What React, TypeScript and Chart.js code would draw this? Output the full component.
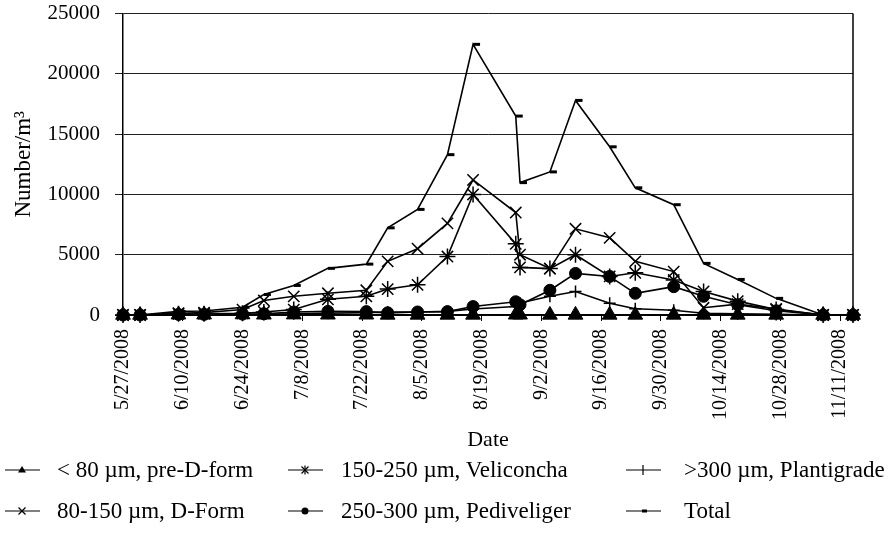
import React, { useEffect, useRef } from "react";
import { Chart, registerables } from "chart.js";

Chart.register(...registerables);

// Sampling dates (m/d/yyyy)
const dates = [
  "5/27/2008", "5/31/2008", "6/9/2008", "6/15/2008", "6/24/2008", "6/29/2008",
  "7/6/2008", "7/14/2008", "7/23/2008", "7/28/2008", "8/4/2008", "8/11/2008",
  "8/17/2008", "8/27/2008", "8/28/2008", "9/4/2008", "9/10/2008", "9/18/2008",
  "9/24/2008", "10/3/2008", "10/10/2008", "10/18/2008", "10/27/2008", "11/7/2008",
  "11/14/2008",
];

const tickDates = [
  "5/27/2008", "6/10/2008", "6/24/2008", "7/8/2008", "7/22/2008", "8/5/2008",
  "8/19/2008", "9/2/2008", "9/16/2008", "9/30/2008", "10/14/2008", "10/28/2008",
  "11/11/2008",
];

const yTicks = [0, 5000, 10000, 15000, 20000, 25000];

const preDForm = [0, 0, 30, 30, 40, 20, 30, 20, 20, 10, 10, 10, 10, 20, 20, 10, 10, 10, 10, 10, 10, 10, 10, 0, 0];
const dForm = [0, 0, 150, 200, 450, 1200, 1550, 1800, 2050, 4450, 5500, 7600, 11200, 8500, 5000, 3850, 7150, 6400, 4450, 3600, 600, 900, 500, 0, 0];
const veliconcha = [0, 0, 100, 100, 150, 250, 450, 1300, 1550, 2150, 2500, 4850, 10000, 5900, 3950, 3850, 5000, 3200, 3500, 2900, 1950, 1150, 450, 0, 0];
const pediveliger = [0, 0, 50, 50, 80, 100, 250, 300, 280, 180, 250, 280, 700, 1100, 850, 2050, 3450, 3200, 1800, 2350, 1550, 850, 350, 0, 0];
const plantigrade = [0, 0, 0, 0, 20, 50, 100, 150, 200, 250, 250, 300, 500, 700, 1000, 1550, 1950, 970, 520, 400, 150, 100, 50, 0, 0];
const total = [0, 0, 300, 330, 640, 1700, 2450, 3870, 4220, 7230, 8760, 13300, 22450, 16500, 10980, 11870, 17800, 13950, 10550, 9150, 4280, 2950, 1380, 0, 0];

const seriesNames = [
  "< 80 µm, pre-D-form",
  "80-150 µm, D-Form",
  "150-250 µm, Veliconcha",
  "250-300 µm, Pediveliger",
  ">300 µm, Plantigrade",
  "Total",
];

const FONT = "'Liberation Serif', 'Times New Roman', serif";
const SHIFT = 14;

function dayOf(s: string): number {
  const [m, d, y] = s.split("/").map(Number);
  return Math.round((Date.UTC(y, m - 1, d) - Date.UTC(2008, 4, 27)) / 86400000);
}

const framePlugin = {
  id: "frame",
  beforeDatasetsDraw(chart: any) {
    const { ctx, chartArea } = chart;
    ctx.save();
    ctx.strokeStyle = "#000";
    ctx.lineWidth = 1.5;
    ctx.beginPath();
    ctx.moveTo(chartArea.right, chartArea.top);
    ctx.lineTo(chartArea.right, chartArea.bottom);
    ctx.stroke();
    ctx.restore();
  },
};

function LegendMarker({ kind }: { kind: string }) {
  const c = 17;
  const m = 7;
  let mark: React.ReactNode = null;
  if (kind === "triangle") {
    mark = <polygon points={`${c},${m - 4} ${c - 4},${m + 2.5} ${c + 4},${m + 2.5}`} fill="#000" />;
  } else if (kind === "x") {
    mark = (
      <g stroke="#000" strokeWidth={1.2}>
        <line x1={c - 3.5} y1={m - 3.5} x2={c + 3.5} y2={m + 3.5} />
        <line x1={c - 3.5} y1={m + 3.5} x2={c + 3.5} y2={m - 3.5} />
      </g>
    );
  } else if (kind === "star") {
    mark = (
      <g stroke="#000" strokeWidth={1.2}>
        <line x1={c - 3.5} y1={m - 3.5} x2={c + 3.5} y2={m + 3.5} />
        <line x1={c - 3.5} y1={m + 3.5} x2={c + 3.5} y2={m - 3.5} />
        <line x1={c} y1={m - 4.5} x2={c} y2={m + 4.5} />
      </g>
    );
  } else if (kind === "circle") {
    mark = <circle cx={c} cy={m} r={3.5} fill="#000" />;
  } else if (kind === "cross") {
    mark = (
      <g stroke="#000" strokeWidth={1.2}>
        <line x1={c} y1={m - 5} x2={c} y2={m + 5} />
      </g>
    );
  } else if (kind === "dash") {
    mark = <line x1={c - 1} y1={m} x2={c + 4} y2={m} stroke="#000" strokeWidth={3} />;
  }
  return (
    <svg width={35} height={14} style={{ display: "block" }}>
      <line x1={0} y1={m} x2={35} y2={m} stroke="#000" strokeWidth={1.2} />
      {mark}
    </svg>
  );
}

const legendItems = [
  { name: seriesNames[0], kind: "triangle", col: 0, row: 0 },
  { name: seriesNames[1], kind: "x", col: 0, row: 1 },
  { name: seriesNames[2], kind: "star", col: 1, row: 0 },
  { name: seriesNames[3], kind: "circle", col: 1, row: 1 },
  { name: seriesNames[4], kind: "cross", col: 2, row: 0 },
  { name: seriesNames[5], kind: "dash", col: 2, row: 1 },
];
const colMarkerX = [5, 288, 626];
const colTextX = [57, 341, 684];
const rowY = [470, 511];

export default function App() {
  const canvasRef = useRef<HTMLCanvasElement | null>(null);

  useEffect(() => {
    document.body.style.margin = "0";
    const canvas = canvasRef.current;
    if (!canvas) return;
    const xs = dates.map(dayOf);
    const xMin = xs[0];
    const xMax = xs[xs.length - 1];
    const tickDays = tickDates.map(dayOf);

    const mk = (label: string, values: number[], pointStyle: any, radius: number, pbw: number) => ({
      label,
      data: values.map((v, i) => ({ x: xs[i], y: v })),
      borderColor: "#000",
      backgroundColor: "#000",
      borderWidth: 1.6,
      pointStyle,
      pointRadius: radius,
      pointBorderWidth: pbw,
      pointBackgroundColor: "#000",
      pointBorderColor: "#000",
      tension: 0,
      fill: false,
      clip: false,
    });

    const chart = new Chart(canvas, {
      type: "line",
      data: {
        datasets: [
          mk(seriesNames[5], total, "dash", 7, 3),
          mk(seriesNames[1], dForm, "crossRot", 8, 1.5),
          mk(seriesNames[2], veliconcha, "star", 8, 1.5),
          mk(seriesNames[3], pediveliger, "circle", 6, 1),
          mk(seriesNames[4], plantigrade, "cross", 6, 1.5),
          mk(seriesNames[0], preDForm, "triangle", 8.5, 1),
        ],
      },
      options: {
        responsive: false,
        animation: false,
        events: [],
        layout: { padding: { left: 0, top: 0, right: 36, bottom: 90 } },
        plugins: {
          legend: { display: false },
          tooltip: { enabled: false },
        },
        scales: {
          x: {
            type: "linear",
            min: xMin,
            max: xMax,
            afterBuildTicks: (scale: any) => {
              scale.ticks = tickDays.map((v) => ({ value: v }));
            },
            afterFit: (scale: any) => {
              scale.height = 140;
            },
            ticks: {
              autoSkip: false,
              minRotation: 90,
              maxRotation: 90,
              padding: 8,
              color: "#000",
              font: { family: FONT, size: 20 },
              callback: (value: any) => {
                const idx = tickDays.indexOf(Number(value));
                return idx >= 0 ? tickDates[idx] : "";
              },
            },
            grid: {
              display: true,
              drawOnChartArea: false,
              drawTicks: true,
              tickLength: 6,
              color: "#000",
            },
            border: { display: true, color: "#000", width: 1.5 },
            title: {
              display: true,
              text: "Date",
              color: "#000",
              font: { family: FONT, size: 22 },
              padding: { top: 0, bottom: 2 },
            },
          },
          y: {
            min: 0,
            max: 25000,
            afterBuildTicks: (scale: any) => {
              scale.ticks = yTicks.map((v) => ({ value: v }));
            },
            afterFit: (scale: any) => {
              scale.width = 123;
            },
            ticks: {
              padding: 15,
              color: "#000",
              font: { family: FONT, size: 21 },
              callback: (value: any) => String(value),
            },
            grid: {
              color: "#222",
              lineWidth: 1,
              tickLength: 8,
            },
            border: { display: true, color: "#000", width: 1.5 },
            title: {
              display: true,
              text: "Number/m³",
              color: "#000",
              font: { family: FONT, size: 23 },
              padding: { top: 10, bottom: 0 },
            },
          },
        },
      },
      plugins: [framePlugin],
    } as any);

    return () => {
      chart.destroy();
    };
  }, []);

  return (
    <div style={{ position: "relative", width: 889, height: 545, background: "#fff", overflow: "hidden" }}>
      <canvas
        ref={canvasRef}
        width={889}
        height={545 + SHIFT}
        style={{ display: "block", position: "absolute", left: 0, top: -SHIFT }}
      />
      {legendItems.map((it) => (
        <React.Fragment key={it.name}>
          <div style={{ position: "absolute", left: colMarkerX[it.col], top: rowY[it.row] - 7 }}>
            <LegendMarker kind={it.kind} />
          </div>
          <div
            style={{
              position: "absolute",
              left: colTextX[it.col],
              top: rowY[it.row] - 14,
              fontFamily: FONT,
              fontSize: 23,
              lineHeight: "28px",
              whiteSpace: "nowrap",
              color: "#000",
            }}
          >
            {it.name}
          </div>
        </React.Fragment>
      ))}
    </div>
  );
}
